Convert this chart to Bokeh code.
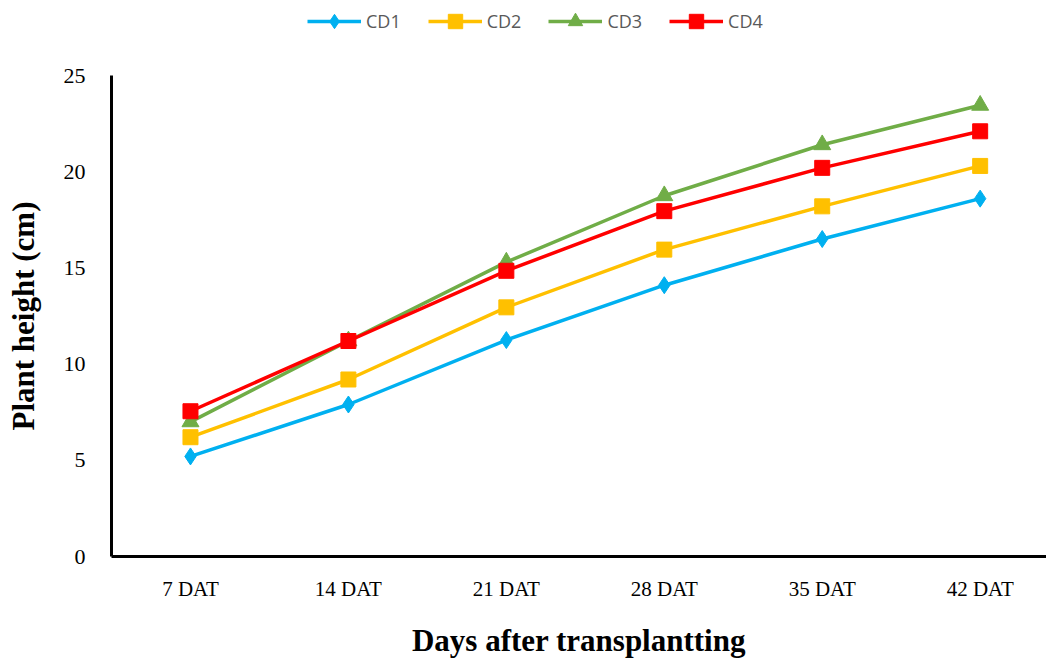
from bokeh.plotting import figure
from bokeh.layouts import column
from bokeh.models import Legend, LegendItem, Range1d, FixedTicker, SingleIntervalTicker
from bokeh.embed import file_html
from bokeh.resources import INLINE

categories = ["7 DAT", "14 DAT", "21 DAT", "28 DAT", "35 DAT", "42 DAT"]
cd1 = [5.2, 7.9, 11.25, 14.1, 16.5, 18.6]
cd2 = [6.2, 9.2, 12.95, 15.95, 18.2, 20.3]
cd3 = [7.0, 11.2, 15.3, 18.75, 21.4, 23.45]
cd4 = [7.55, 11.2, 14.85, 17.95, 20.2, 22.1]
series_names = ["CD1", "CD2", "CD3", "CD4"]
colors = ["#00B0F0", "#FFC000", "#70AD47", "#FF0000"]
markers = ["diamond", "square", "triangle", "square"]

x = list(range(1, len(categories) + 1))

p = figure(width=1046, height=620, output_backend="svg", toolbar_location=None,
           x_range=Range1d(0.5, 6.42), y_range=Range1d(0, 25),
           min_border_left=111, min_border_right=0, min_border_top=35,
           min_border_bottom=104)
p.outline_line_color = None
p.grid.grid_line_color = None

leg = figure(width=1046, height=40, output_backend="svg", toolbar_location=None,
             x_range=Range1d(0, 1), y_range=Range1d(0, 1), min_border=0)
leg.outline_line_color = None
leg.grid.grid_line_color = None
leg.axis.visible = False

items = []
for name, ys, c, m in zip(series_names, [cd1, cd2, cd3, cd4], colors, markers):
    p.line(x, ys, line_color=c, line_width=3.5)
    size = 17 if m == "diamond" else (15 if m == "square" else 17)
    p.scatter(x, ys, marker=m, size=size, fill_color=c, line_color=c)
    # legend proxies placed outside the visible range of the legend strip
    l1 = leg.line([5, 6], [5, 6], line_color=c, line_width=3.5)
    l2 = leg.scatter([5], [5], marker=m, fill_color=c, line_color=c)
    items.append(LegendItem(label=name, renderers=[l1, l2]))

p.xaxis.ticker = FixedTicker(ticks=x)
p.xaxis.major_label_overrides = {i: c for i, c in zip(x, categories)}
p.yaxis.ticker = SingleIntervalTicker(interval=5)

for ax in (p.xaxis, p.yaxis):
    ax.axis_line_width = 3
    ax.axis_line_color = "black"
    ax.major_tick_line_color = None
    ax.minor_tick_line_color = None
    ax.major_tick_out = 0
    ax.major_tick_in = 0
    ax.major_label_text_font = "Liberation Serif"
    ax.major_label_text_color = "black"
    ax.axis_label_text_font = "Liberation Serif"
    ax.axis_label_text_font_style = "bold"
    ax.axis_label_text_color = "black"
    ax.axis_label_text_font_size = "31px"

p.xaxis.major_label_text_font_size = "21px"
p.yaxis.major_label_text_font_size = "22px"
p.xaxis.major_label_standoff = 20
p.yaxis.major_label_standoff = 22
p.xaxis.axis_label = "Days after transplantting"
p.yaxis.axis_label = "Plant height (cm)"
p.xaxis.axis_label_standoff = 19
p.yaxis.axis_label_standoff = 20

legend = Legend(items=items, orientation="horizontal", location=(196, 1),
                label_text_font="Open Sans", label_text_font_size="18px",
                label_text_color="#595959", glyph_width=54, glyph_height=36,
                spacing=27, border_line_color=None, background_fill_alpha=0,
                label_standoff=5, margin=0, padding=2)
leg.add_layout(legend, "center")

layout = column(leg, p, spacing=0)
open("out.html", "w").write(file_html(layout, INLINE))
